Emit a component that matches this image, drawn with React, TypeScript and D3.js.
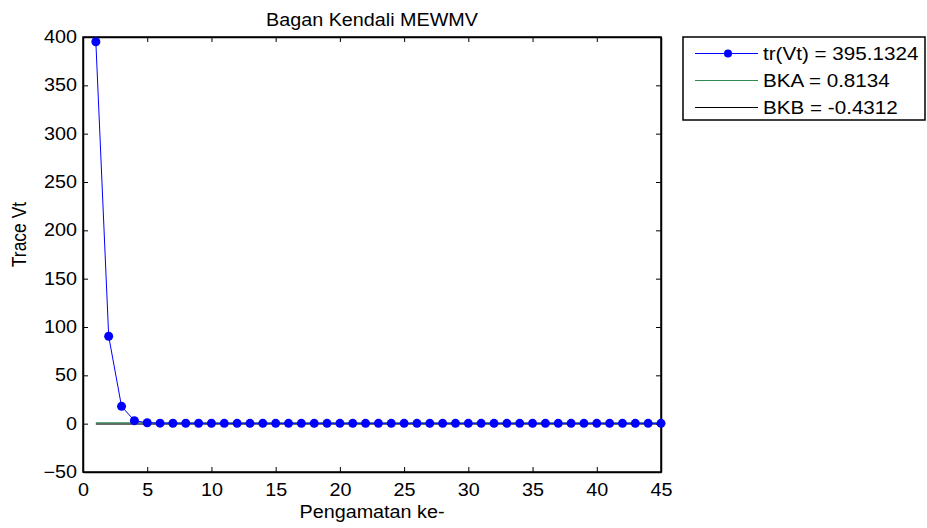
import { useEffect, useRef } from "react";
import * as d3 from "d3";

const observations = d3.range(1, 46);
const traceVt = [
  395.1324, 90.4, 17.9, 3.1, 0.92, 0.55, 0.46, 0.41, 0.39, 0.38,
  0.37, 0.37, 0.36, 0.36, 0.36, 0.35, 0.35, 0.35, 0.35, 0.35,
  0.35, 0.35, 0.35, 0.35, 0.35, 0.35, 0.35, 0.35, 0.35, 0.35,
  0.35, 0.35, 0.35, 0.35, 0.35, 0.35, 0.35, 0.35, 0.35, 0.35,
  0.35, 0.35, 0.35, 0.35, 0.35,
];
const bka = 0.8134;
const bkb = -0.4312;
const xTicks = [0, 5, 10, 15, 20, 25, 30, 35, 40, 45];
const yTicks = [-50, 0, 50, 100, 150, 200, 250, 300, 350, 400];
const legendLabels = ["tr(Vt) = 395.1324", "BKA = 0.8134", "BKB = -0.4312"];
const legendColors = ["#0000ff", "#2e8b57", "#000000"];

const W = 927, H = 528;
const FS = 17.5; // font size
const SX = 1.13; // the picture's text is a bit wide

export default function App() {
  const svgRef = useRef<SVGSVGElement>(null);

  useEffect(() => {
    const margin = { top: 37, right: 266, bottom: 56, left: 83 };
    const wt = W - margin.left - margin.right;
    const ht = H - margin.top - margin.bottom;

    d3.select(svgRef.current).selectAll("*").remove();
    const root = d3.select(svgRef.current)
      .attr("width", W)
      .attr("height", H)
      .style("font-family", "'Liberation Sans', Arial, sans-serif");

    root.append("rect").attr("width", W).attr("height", H).attr("fill", "#fff");

    const svg = root.append("g").attr("transform", `translate(${margin.left},${margin.top})`);

    const x = d3.scaleLinear().domain([0, 45]).range([0, wt]);
    const y = d3.scaleLinear().domain([-50, 400]).range([ht, 0]);

    const stretchText = (sel: any, dx: number, anchor: string) => {
      sel.selectAll("text")
        .attr("x", dx / SX)
        .attr("transform", `scale(${SX},1)`)
        .style("text-anchor", anchor)
        .style("font-size", `${FS}px`)
        .attr("fill", "#000");
    };

    // bottom axis, ticks pointing in
    const xAxis = svg.append("g")
      .attr("transform", `translate(0,${ht})`)
      .call(d3.axisBottom(x).tickValues(xTicks).tickSize(-5).tickSizeOuter(0));
    stretchText(xAxis, 0, "middle");
    xAxis.selectAll("text").attr("dy", "0.71em").attr("y", 12);

    svg.append("g")
      .call(d3.axisTop(x).tickValues(xTicks).tickSize(-5).tickFormat(() => "").tickSizeOuter(0));

    const yAxis = svg.append("g")
      .call(d3.axisLeft(y).tickValues(yTicks).tickSize(-5).tickSizeOuter(0));
    stretchText(yAxis, -6, "end");

    svg.append("g")
      .attr("transform", `translate(${wt},0)`)
      .call(d3.axisRight(y).tickValues(yTicks).tickSize(-5).tickFormat(() => "").tickSizeOuter(0));

    svg.selectAll(".domain").attr("stroke", "#000").attr("stroke-width", 1.5);
    svg.selectAll(".tick line").attr("stroke", "#000").attr("stroke-width", 1);

    // box
    svg.append("rect")
      .attr("width", wt).attr("height", ht)
      .attr("fill", "none").attr("stroke", "#000").attr("stroke-width", 1.5);

    // control limits
    const first = observations[0], last = observations[observations.length - 1];
    svg.append("line")
      .attr("x1", x(first)).attr("x2", x(last))
      .attr("y1", y(bka)).attr("y2", y(bka))
      .attr("stroke", legendColors[1]).attr("stroke-width", 1.2);
    svg.append("line")
      .attr("x1", x(first)).attr("x2", x(last))
      .attr("y1", y(bkb)).attr("y2", y(bkb))
      .attr("stroke", legendColors[2]).attr("stroke-width", 1);

    const data = observations.map((o, i) => ({ o, v: traceVt[i] }));
    const line = d3.line<{ o: number; v: number }>().x(d => x(d.o)).y(d => y(d.v));
    svg.append("path")
      .datum(data)
      .attr("d", line)
      .attr("fill", "none")
      .attr("stroke", legendColors[0])
      .attr("stroke-width", 1);
    svg.append("g")
      .selectAll("circle")
      .data(data)
      .join("circle")
        .attr("cx", d => x(d.o))
        .attr("cy", d => y(d.v))
        .attr("r", 4.5)
        .attr("fill", legendColors[0]);

    // title
    svg.append("text")
      .attr("transform", `translate(${wt / 2},-11) scale(${SX},1)`)
      .attr("text-anchor", "middle")
      .style("font-size", `${FS}px`)
      .text("Bagan Kendali MEWMV");

    // x label
    svg.append("text")
      .attr("transform", `translate(${wt / 2},${ht + 46}) scale(${SX},1)`)
      .attr("text-anchor", "middle")
      .style("font-size", `${FS}px`)
      .text("Pengamatan ke-");

    // y label
    svg.append("text")
      .attr("transform", `translate(${-57},${ht / 2 - 20}) scale(${SX},1) rotate(-90)`)
      .attr("text-anchor", "middle")
      .style("font-size", `${FS}px`)
      .text("Trace Vt");

    // legend
    const lg = root.append("g").attr("transform", "translate(683,37)");
    lg.append("rect")
      .attr("width", 242).attr("height", 83)
      .attr("fill", "#fff").attr("stroke", "#000").attr("stroke-width", 1.5);
    legendLabels.forEach((lab, i) => {
      const cy = 16.5 + i * 27;
      lg.append("line")
        .attr("x1", 12).attr("x2", 75).attr("y1", cy).attr("y2", cy)
        .attr("stroke", legendColors[i]).attr("stroke-width", 1);
      if (i === 0) {
        lg.append("circle").attr("cx", 45).attr("cy", cy).attr("r", 4).attr("fill", legendColors[0]);
      }
      lg.append("text")
        .attr("transform", `translate(80,${cy + 6}) scale(${SX + 0.05},1)`)
        .style("font-size", `${FS}px`)
        .text(lab);
    });
  }, []);

  return (
    <svg ref={svgRef} style={{ position: "absolute", left: 0, top: 0, display: "block" }}></svg>
  );
}
